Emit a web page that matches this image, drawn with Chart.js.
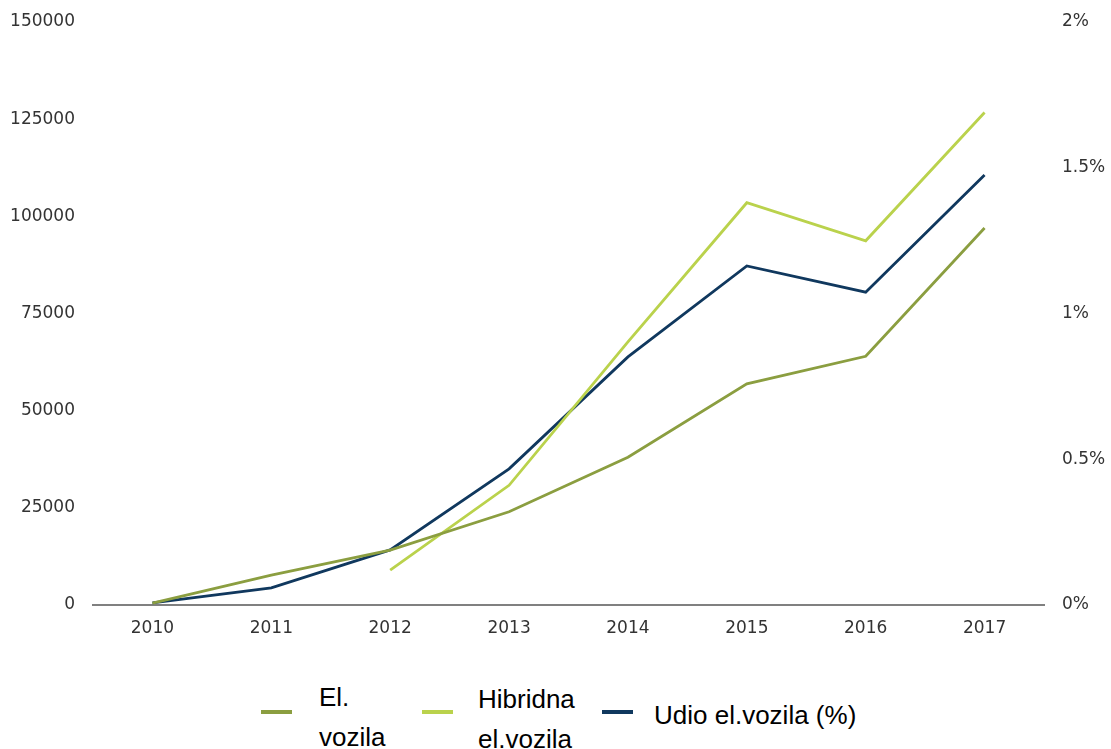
<!DOCTYPE html>
<html>
<head>
<meta charset="utf-8">
<script src="https://cdn.jsdelivr.net/npm/chart.js@4/dist/chart.umd.min.js"></script>
<style>
  html, body { margin: 0; padding: 0; background: #fff; }
  body { width: 1111px; height: 749px; position: relative; overflow: hidden; }
  #wrap { position: absolute; left: 0; top: 0; width: 1111px; height: 650px; }
  .leg { position: absolute; font-family: "Liberation Sans", Arial, sans-serif; font-size: 26px; color: #000; line-height: 40px; }
  .sw { position: absolute; width: 31px; height: 4px; }
</style>
</head>
<body>
<div id="wrap"><canvas id="chart"></canvas></div>

<div class="sw" style="left:261px; top:710px; background:#8b9e40"></div>
<div class="leg" style="left:319px; top:677px">El.<br>vozila</div>
<div class="sw" style="left:422px; top:710px; background:#bad24c"></div>
<div class="leg" style="left:478px; top:679px">Hibridna<br>el.vozila</div>
<div class="sw" style="left:602px; top:710px; background:#10385e"></div>
<div class="leg" style="left:654px; top:695px">Udio el.vozila (%)</div>

<script>
const years = ["2010", "2011", "2012", "2013", "2014", "2015", "2016", "2017"];
const elVozila = [500, 7700, 14100, 24000, 38000, 56900, 64000, 97000];
const hibridna = [null, null, 9000, 30800, 67700, 103500, 93700, 126700];
const udio = [0.007, 0.059, 0.189, 0.467, 0.851, 1.163, 1.073, 1.475];

const tickFont = { family: "DejaVu Sans", size: 17 };

// fixed axis widths, no extra room for the end labels
function fixWidth(w) {
  return (scale) => {
    scale.width = w;
    scale.paddingTop = 0;
    scale.paddingBottom = 0;
  };
}

new Chart("chart", {
  type: "line",
  data: {
    labels: years,
    datasets: [
      {
        label: "El. vozila",
        data: elVozila,
        borderColor: "#8b9e40",
        yAxisID: "y",
      },
      {
        label: "Hibridna el.vozila",
        data: hibridna,
        borderColor: "#bad24c",
        yAxisID: "y",
      },
      {
        label: "Udio el.vozila (%)",
        data: udio,
        borderColor: "#10385e",
        yAxisID: "y1",
      },
    ],
  },
  options: {
    responsive: true,
    maintainAspectRatio: false,
    animation: false,
    layout: { padding: { top: 22, left: 0, right: 0, bottom: 0 } },
    elements: {
      line: { borderWidth: 2.8, tension: 0 },
      point: { radius: 0 },
    },
    plugins: {
      legend: { display: false },
      tooltip: { enabled: false },
    },
    scales: {
      x: {
        offset: true,
        grid: { display: false, drawTicks: false },
        border: { display: true, color: "#808080", width: 2 },
        ticks: { color: "#333", font: tickFont, padding: 13 },
        afterFit: (scale) => { scale.height = 45; },
      },
      y: {
        position: "left",
        min: 0,
        max: 150000,
        grid: { display: false, drawTicks: false },
        border: { display: false },
        ticks: {
          stepSize: 25000,
          color: "#333",
          font: tickFont,
          padding: 18,
          callback: (value) => String(value),
        },
        afterFit: fixWidth(93),
      },
      y1: {
        position: "right",
        min: 0,
        max: 2,
        grid: { display: false, drawTicks: false },
        border: { display: false },
        ticks: {
          stepSize: 0.5,
          color: "#333",
          font: tickFont,
          padding: 18,
          callback: (value) => value + "%",
        },
        afterFit: fixWidth(67),
      },
    },
  },
});
</script>
</body>
</html>
